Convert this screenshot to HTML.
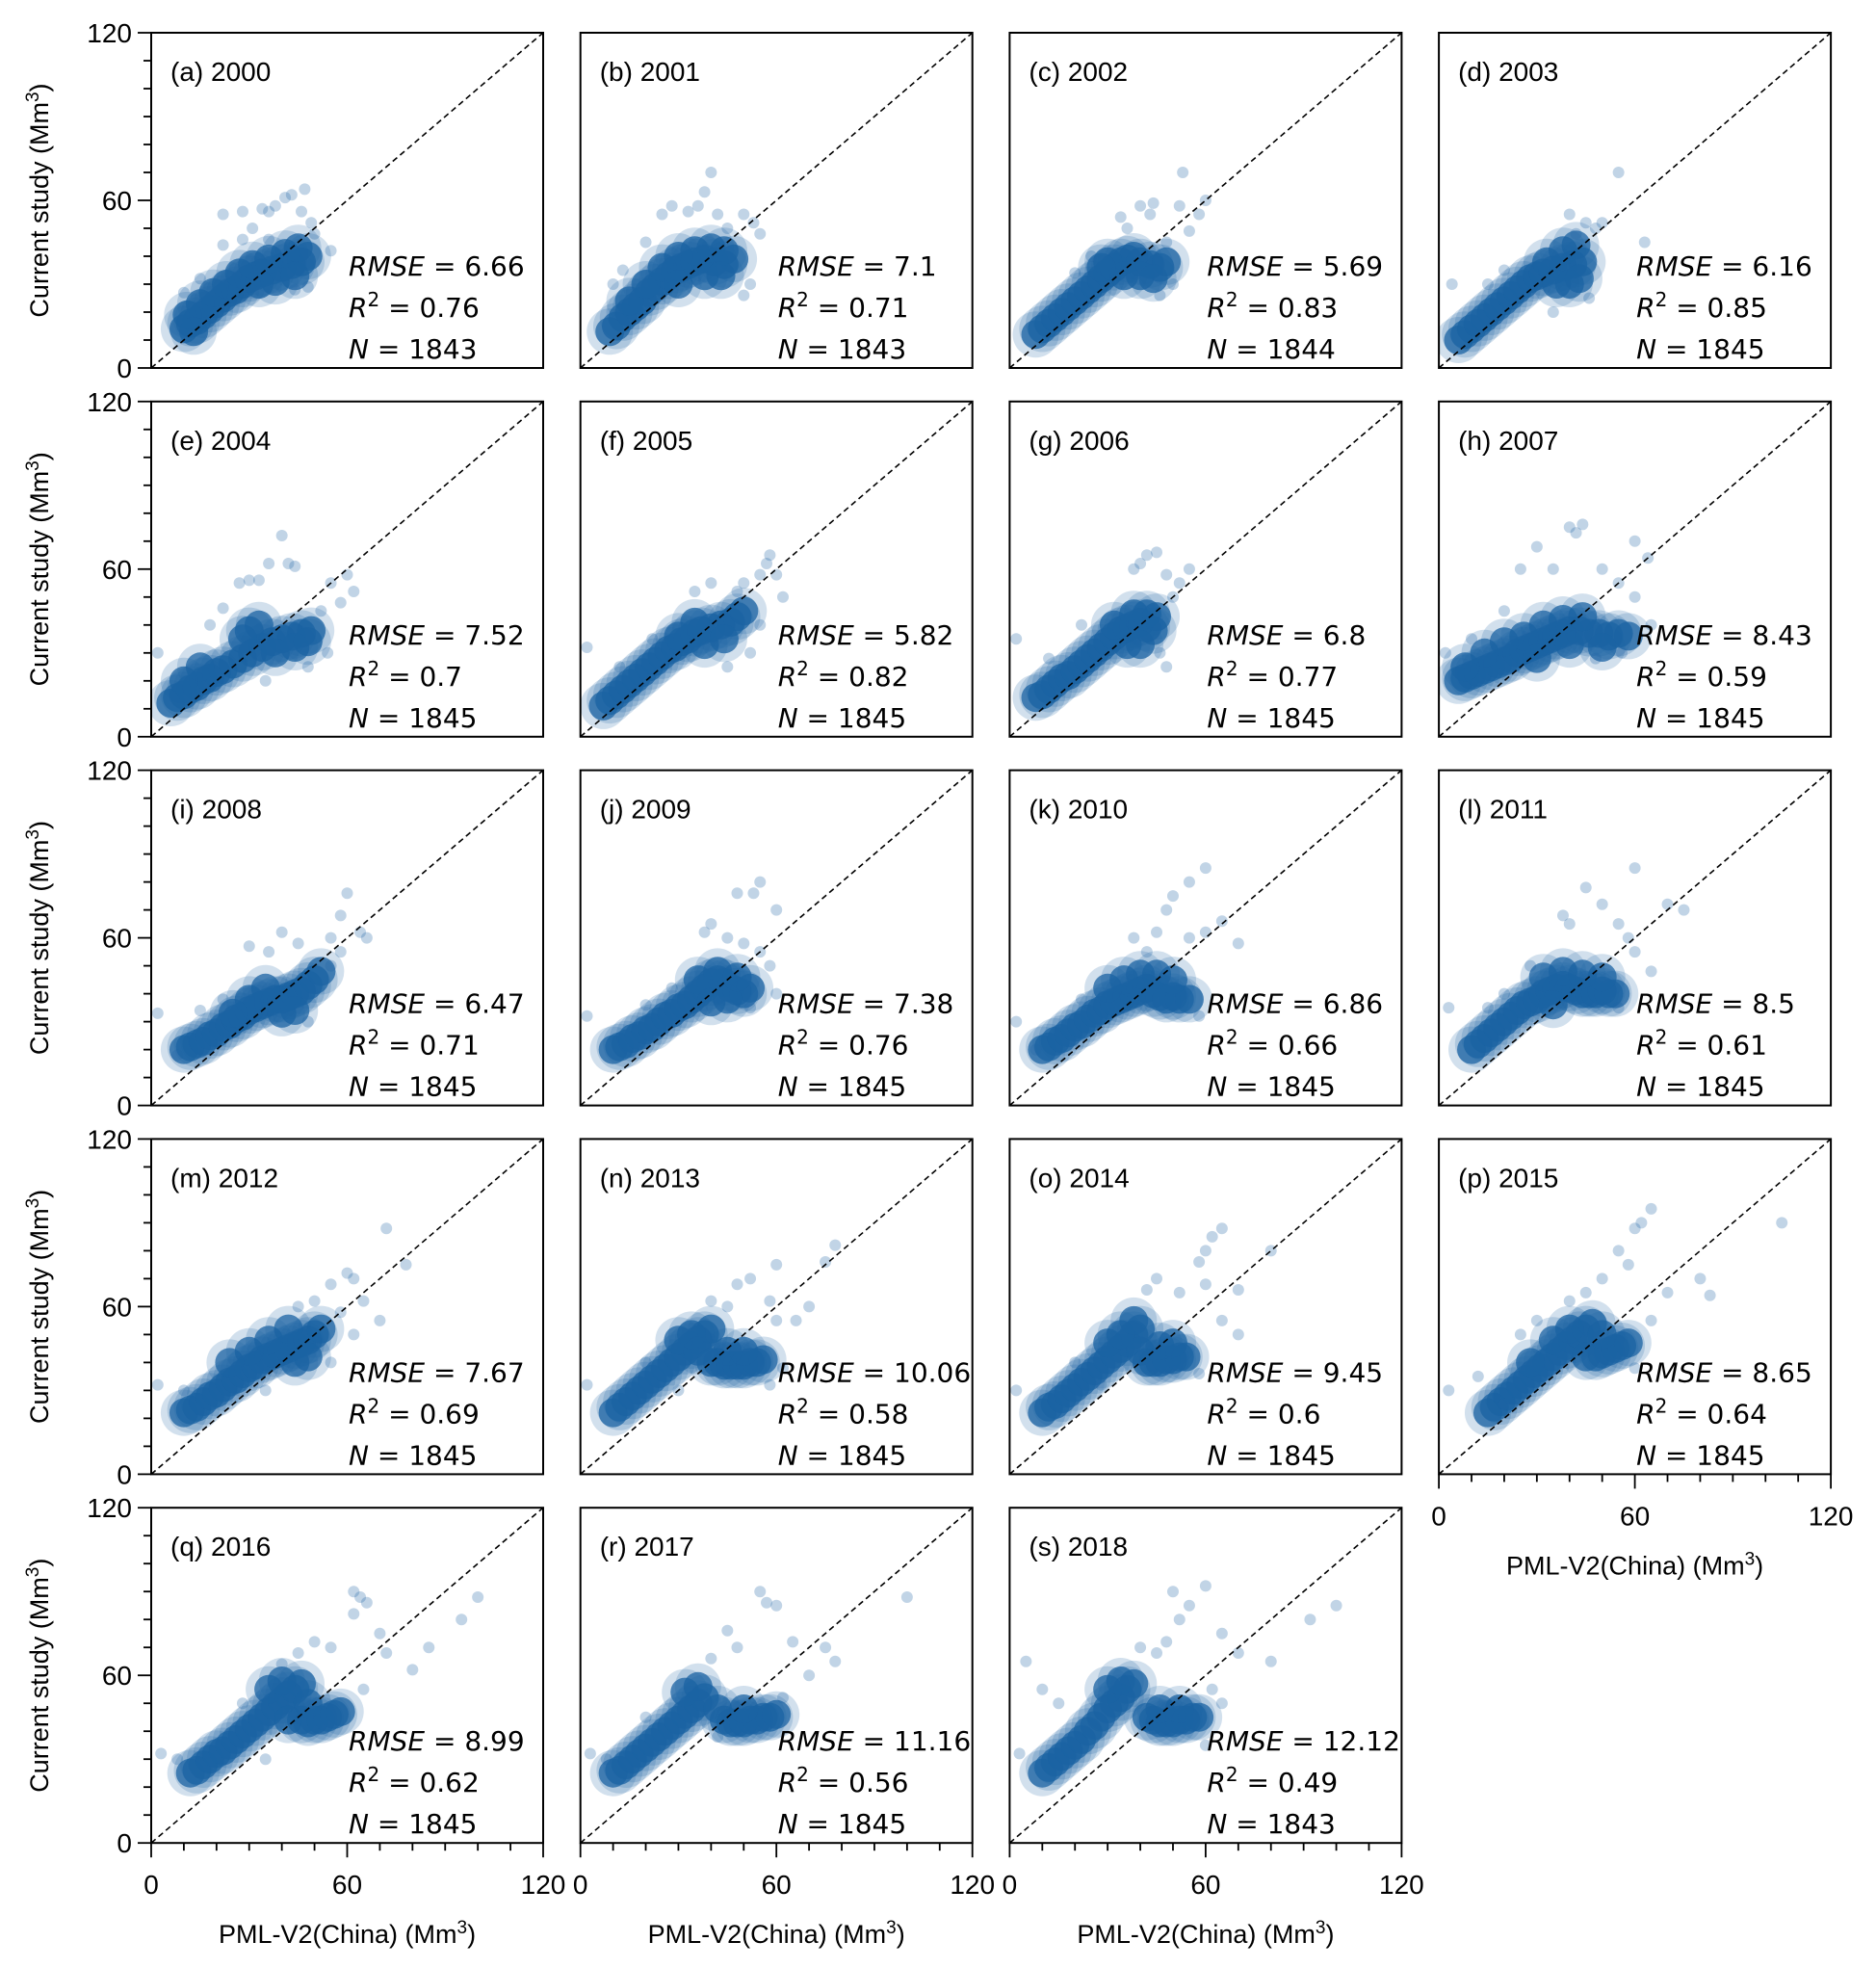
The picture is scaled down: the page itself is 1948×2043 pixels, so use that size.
<!DOCTYPE html>
<html><head><meta charset="utf-8"><style>
html,body{margin:0;padding:0;background:#fff;}
svg{display:block;}
text{font-family:"Liberation Sans",Arial,sans-serif;fill:#000;}
.st{font-family:"DejaVu Sans",sans-serif;}
</style></head><body>
<svg id="fig" width="1948" height="2043" viewBox="0 0 1948 2043" xmlns="http://www.w3.org/2000/svg"></svg>
<script>
const panelTitles=["(a) 2000","(b) 2001","(c) 2002","(d) 2003","(e) 2004","(f) 2005","(g) 2006","(h) 2007","(i) 2008","(j) 2009","(k) 2010","(l) 2011","(m) 2012","(n) 2013","(o) 2014","(p) 2015","(q) 2016","(r) 2017","(s) 2018"];
const rmseValues=["6.66","7.1","5.69","6.16","7.52","5.82","6.8","8.43","6.47","7.38","6.86","8.5","7.67","10.06","9.45","8.65","8.99","11.16","12.12"];
const r2Values=["0.76","0.71","0.83","0.85","0.7","0.82","0.77","0.59","0.71","0.76","0.66","0.61","0.69","0.58","0.6","0.64","0.62","0.56","0.49"];
const nValues=["1843","1843","1844","1845","1845","1845","1845","1845","1845","1845","1845","1845","1845","1845","1845","1845","1845","1845","1843"];
const axisTicks=[0,60,120];
const coreA=[[10,14],[12,16],[14,17],[16,19],[18,21],[20,23],[22,25],[24,27],[26,28],[28,30],[30,32],[32,33],[34,34],[37,35],[40,36],[43,37],[46,38],[48,40],[11,19],[15,23],[19,27],[23,30],[27,34],[31,37],[36,39],[41,41],[45,43],[38,31],[44,33],[33,30],[13,13]];
const outA=[[22,55],[28,56],[34,57],[36,56],[38,58],[41,61],[43,62],[47,64],[46,56],[49,52],[28,46],[22,44],[55,42],[48,29],[44,28],[15,32],[10,27],[50,48],[31,50],[36,46]];
const coreB=[[9,13],[11,15],[13,18],[15,20],[17,22],[19,24],[21,27],[23,29],[25,31],[27,33],[29,35],[31,36],[33,37],[35,38],[38,39],[41,38],[44,37],[47,39],[15,24],[20,30],[25,36],[30,40],[35,42],[40,43],[44,42],[38,33],[43,33],[30,30]];
const outB=[[40,70],[38,63],[36,58],[33,56],[28,58],[25,55],[50,55],[53,52],[55,48],[52,30],[50,26],[10,30],[13,35],[20,45],[45,50],[42,55]];
const coreC=[[8,12],[10,14],[12,16],[14,18],[16,20],[18,22],[20,24],[22,26],[24,28],[26,30],[28,32],[30,34],[32,36],[34,38],[36,39],[38,40],[40,38],[43,37],[46,36],[48,38],[35,33],[40,33],[44,32],[30,38],[28,36]];
const outC=[[53,70],[52,58],[40,58],[43,55],[44,59],[34,54],[36,50],[55,49],[58,55],[60,60],[50,30],[46,26],[20,34],[25,40],[48,45]];
const coreD=[[6,10],[8,12],[10,14],[12,16],[14,18],[16,20],[18,22],[20,24],[22,26],[24,28],[26,30],[28,32],[30,33],[32,34],[35,35],[38,36],[41,37],[44,38],[36,30],[40,30],[43,32],[33,38],[38,42],[42,44]];
const outD=[[55,70],[50,52],[48,50],[45,52],[40,55],[42,48],[63,45],[4,30],[15,30],[20,35],[35,20],[46,25]];
const coreE=[[6,12],[8,14],[10,15],[12,17],[14,18],[16,20],[18,21],[20,23],[22,24],[25,26],[28,28],[31,30],[34,32],[37,34],[40,35],[43,36],[46,37],[49,38],[30,38],[33,40],[28,35],[38,30],[44,32],[48,34],[10,20],[15,25]];
const outE=[[40,72],[44,61],[42,62],[36,62],[30,56],[27,55],[33,56],[60,58],[62,52],[58,48],[55,55],[52,45],[54,30],[2,30],[18,40],[22,46],[48,25],[35,20]];
const coreF=[[7,11],[9,13],[11,15],[13,17],[15,19],[17,21],[19,23],[21,25],[23,27],[25,29],[27,31],[29,32],[31,34],[33,35],[35,37],[37,38],[40,39],[43,40],[46,41],[48,43],[50,45],[38,33],[44,35],[30,36],[35,41]];
const outF=[[58,65],[57,62],[55,58],[50,55],[48,52],[40,55],[35,52],[60,58],[62,50],[2,32],[12,25],[45,25],[52,30],[22,35],[55,40]];
const coreG=[[8,14],[10,15],[12,17],[14,19],[16,21],[18,22],[20,24],[22,26],[24,28],[26,30],[28,32],[30,34],[32,36],[34,38],[36,39],[38,40],[40,41],[42,39],[44,38],[36,33],[40,33],[32,40],[38,44],[42,44],[45,43]];
const outG=[[42,65],[45,66],[40,62],[38,60],[48,58],[52,55],[55,60],[50,50],[2,35],[12,28],[22,40],[46,30],[48,25]];
const coreH=[[6,20],[8,21],[10,22],[12,23],[14,24],[16,25],[18,26],[20,27],[22,28],[24,30],[26,31],[28,32],[30,33],[32,34],[34,35],[36,36],[38,37],[40,38],[43,38],[46,37],[49,37],[52,36],[55,37],[58,36],[14,30],[20,34],[26,36],[32,40],[38,42],[44,43],[30,28],[40,33],[50,32],[8,25]];
const outH=[[40,75],[42,73],[44,76],[30,68],[35,60],[25,60],[50,60],[55,55],[60,70],[64,64],[60,50],[65,40],[2,30],[10,35],[20,45],[48,28],[56,30]];
const coreI=[[10,20],[12,21],[14,22],[16,23],[18,25],[20,26],[22,28],[24,29],[26,31],[28,32],[30,34],[32,35],[34,36],[36,37],[38,38],[40,38],[42,39],[44,40],[46,41],[48,43],[50,45],[40,33],[44,34],[30,38],[35,42],[25,33],[52,48]];
const outI=[[60,76],[58,68],[66,60],[64,62],[55,60],[45,58],[40,62],[30,57],[36,55],[2,33],[8,18],[15,34],[22,38],[48,30],[55,50],[58,55]];
const coreJ=[[10,20],[12,21],[14,22],[16,24],[18,25],[20,27],[22,28],[24,30],[26,32],[28,33],[30,35],[32,36],[34,38],[36,40],[38,42],[40,44],[42,45],[44,44],[46,42],[48,41],[50,40],[52,42],[40,37],[45,38],[36,45],[42,48],[48,46]];
const outJ=[[55,80],[53,76],[48,76],[60,70],[40,65],[38,62],[45,60],[50,58],[55,55],[58,50],[2,32],[20,36],[28,42],[60,40],[52,35]];
const coreK=[[10,20],[12,21],[14,23],[16,24],[18,26],[20,28],[22,29],[24,31],[26,33],[28,34],[30,36],[32,37],[34,38],[36,39],[38,40],[40,41],[42,42],[44,40],[46,39],[48,38],[50,39],[52,38],[55,38],[40,47],[45,47],[35,45],[30,42],[50,45]];
const outK=[[60,85],[55,80],[50,75],[48,70],[65,66],[60,62],[55,60],[45,62],[38,60],[42,55],[70,58],[2,30],[8,20],[22,38],[58,32]];
const coreL=[[10,20],[12,22],[14,24],[16,26],[18,28],[20,30],[22,32],[24,34],[26,36],[28,37],[30,38],[32,40],[34,41],[36,42],[38,43],[40,42],[42,41],[44,40],[46,40],[48,40],[50,41],[52,40],[54,40],[32,46],[38,48],[44,47],[50,46],[35,36]];
const outL=[[60,85],[75,70],[70,72],[45,78],[50,72],[40,65],[38,68],[55,65],[58,60],[60,55],[3,35],[15,35],[20,40],[55,35],[28,50],[65,48]];
const coreM=[[10,22],[12,23],[14,24],[16,26],[18,28],[20,29],[22,31],[24,33],[26,34],[28,36],[30,38],[32,39],[34,41],[36,42],[38,43],[40,44],[42,45],[44,46],[46,47],[48,48],[50,50],[30,44],[36,48],[42,52],[44,40],[48,42],[24,40],[52,52]];
const outM=[[72,88],[78,75],[60,72],[62,70],[55,68],[65,62],[50,62],[45,60],[58,58],[70,55],[2,32],[10,30],[35,30],[55,40],[62,50]];
const coreN=[[10,22],[12,24],[14,26],[16,28],[18,30],[20,32],[22,34],[24,36],[26,38],[28,40],[30,42],[32,44],[34,46],[36,48],[38,50],[40,52],[30,48],[34,50],[36,44],[40,40],[42,40],[44,39],[46,39],[48,39],[50,39],[52,40],[54,40],[56,41],[45,44],[50,44]];
const outN=[[78,82],[75,76],[60,75],[48,68],[52,70],[58,62],[60,55],[66,55],[70,60],[45,60],[40,62],[2,32],[20,40],[30,30],[62,38],[58,32]];
const coreO=[[10,22],[12,24],[14,25],[16,27],[18,29],[20,31],[22,33],[24,35],[26,37],[28,39],[30,41],[32,43],[34,45],[36,47],[38,50],[40,52],[30,47],[34,50],[38,55],[40,44],[42,40],[44,40],[46,40],[48,41],[50,41],[52,42],[54,42],[46,46],[50,47]];
const outO=[[65,88],[62,85],[60,80],[58,76],[80,80],[70,66],[60,68],[52,65],[45,70],[42,66],[65,55],[70,50],[2,30],[20,40],[28,32],[58,36]];
const coreP=[[15,22],[17,24],[19,26],[21,28],[23,30],[25,32],[27,34],[29,36],[31,38],[33,40],[35,42],[37,44],[39,46],[41,48],[43,50],[45,52],[47,54],[45,42],[48,42],[50,43],[52,44],[54,45],[56,46],[58,47],[35,48],[40,52],[50,50],[28,40]];
const outP=[[65,95],[62,90],[60,88],[55,80],[58,75],[80,70],[105,90],[83,64],[70,65],[50,70],[45,65],[40,62],[30,55],[25,50],[3,30],[12,35],[65,55],[60,38],[20,25]];
const coreQ=[[12,25],[14,26],[16,28],[18,30],[20,32],[22,33],[24,35],[26,37],[28,39],[30,41],[32,43],[34,45],[36,47],[38,49],[40,51],[42,53],[44,55],[46,57],[42,44],[46,44],[48,43],[50,44],[52,44],[54,45],[56,46],[58,47],[36,55],[40,58],[48,50]];
const outQ=[[62,90],[64,88],[62,82],[66,86],[70,75],[100,88],[95,80],[85,70],[80,62],[72,68],[55,70],[50,72],[45,68],[40,64],[3,32],[8,30],[28,50],[35,30],[65,55]];
const coreR=[[10,25],[12,26],[14,28],[16,30],[18,32],[20,34],[22,36],[24,38],[26,40],[28,42],[30,44],[32,46],[34,48],[36,50],[38,52],[32,54],[36,56],[44,44],[46,43],[48,43],[50,43],[52,44],[54,44],[56,45],[58,45],[60,46],[42,48],[50,48]];
const outR=[[55,90],[57,86],[60,85],[100,88],[75,70],[78,65],[70,60],[65,72],[48,70],[45,76],[40,66],[3,32],[8,30],[20,45],[62,52],[42,38]];
const coreS=[[10,25],[12,27],[14,29],[16,31],[18,33],[20,35],[22,37],[24,40],[26,42],[28,45],[30,48],[32,50],[34,52],[36,55],[38,57],[30,55],[34,58],[42,45],[44,44],[46,43],[48,43],[50,43],[52,44],[54,44],[56,45],[58,45],[46,48],[52,48]];
const outS=[[50,90],[60,92],[55,85],[52,80],[100,85],[92,80],[80,65],[70,68],[65,75],[48,72],[45,68],[40,70],[5,65],[3,32],[10,55],[15,50],[62,55],[65,50],[60,35]];
const coreSets=[coreA,coreB,coreC,coreD,coreE,coreF,coreG,coreH,coreI,coreJ,coreK,coreL,coreM,coreN,coreO,coreP,coreQ,coreR,coreS];
const outSets=[outA,outB,outC,outD,outE,outF,outG,outH,outI,outJ,outK,outL,outM,outN,outO,outP,outQ,outR,outS];

const NS="http://www.w3.org/2000/svg";
const svg=document.getElementById('fig');
const L0=157,T0=34,PX=445.7,PY=382.8,W=407,H=348,VMAX=120;
function mk(tag,attrs,parent){const e=document.createElementNS(NS,tag);for(const k in attrs)e.setAttribute(k,attrs[k]);(parent||svg).appendChild(e);return e;}
for(let i=0;i<panelTitles.length;i++){
  const col=i%4,row=Math.floor(i/4);
  const left=L0+col*PX,top=T0+row*PY,bottom=top+H;
  const sx=v=>left+v/VMAX*W, sy=v=>bottom-v/VMAX*H;
  const g=mk('g',{});
  
  
  const clip=mk('clipPath',{id:'c'+i},g);
  mk('rect',{x:left,y:top,width:W,height:H},clip);
  const pts=mk('g',{'clip-path':'url(#c'+i+')'},g);
  
  
  for(const p of coreSets[i]){
    const h=mk('circle',{cx:sx(p[0]),cy:sy(p[1]),r:24,fill:'rgba(31,100,165,0.2)'},pts);
    
    
  }
  for(const p of coreSets[i]){
    const c=mk('circle',{cx:sx(p[0]),cy:sy(p[1]),r:15,fill:'rgba(27,99,163,0.75)'},pts);
    
    
  }
  for(const p of outSets[i]){
    const c=mk('circle',{cx:sx(p[0]),cy:sy(p[1]),r:6,fill:'rgba(31,100,165,0.28)'},pts);
    
    
  }
  const d=mk('line',{x1:sx(0),y1:sy(0),x2:sx(VMAX),y2:sy(VMAX),stroke:'#000','stroke-width':1.6,'stroke-dasharray':'6,4'},g);
  
  
  const fr=mk('rect',{x:left,y:top,width:W,height:H,fill:'none',stroke:'#000','stroke-width':2},g);
  
  
  const t=mk('text',{x:left+20,y:top+50,'font-size':28},g);t.textContent=panelTitles[i];
  
  
  const st=mk('text',{class:'st',x:left+205,y:bottom-96,'font-size':28},g);
  st.innerHTML='<tspan font-style="italic">RMSE</tspan> = '+rmseValues[i];
  
  
  const r2=mk('text',{class:'st',x:left+205,y:bottom-53,'font-size':28},g);
  r2.innerHTML='<tspan font-style="italic">R</tspan><tspan dy="-11" font-size="20">2</tspan><tspan dy="11"> = '+r2Values[i]+'</tspan>';
  
  
  const nn=mk('text',{class:'st',x:left+205,y:bottom-10,'font-size':28},g);
  nn.innerHTML='<tspan font-style="italic">N</tspan> = '+nValues[i];
  
  
  if(col===0){
    for(let v=0;v<=VMAX;v+=10){
      const major=axisTicks.includes(v);
      mk('line',{x1:left,x2:left-(major?14:8),y1:sy(v),y2:sy(v),stroke:'#000','stroke-width':1.8},g);
    }
    for(const v of axisTicks){
      const tl=mk('text',{x:left-20,y:sy(v)+10,'font-size':28,'text-anchor':'end'},g);tl.textContent=v;
      
      
    }
    const yl=mk('text',{x:0,y:0,'font-size':27,'text-anchor':'middle',transform:'translate(50,'+(top+H/2)+') rotate(-90)'},g);
    yl.innerHTML='Current study (Mm<tspan dy="-10" font-size="19">3</tspan><tspan dy="10">)</tspan>';
    
    
  }
  if(row===4||i===15){
    for(let v=0;v<=VMAX;v+=10){
      const major=axisTicks.includes(v);
      mk('line',{x1:sx(v),x2:sx(v),y1:bottom,y2:bottom+(major?15:8),stroke:'#000','stroke-width':1.8},g);
    }
    for(const v of axisTicks){
      const tl=mk('text',{x:sx(v),y:bottom+53,'font-size':28,'text-anchor':'middle'},g);tl.textContent=v;
      
      
    }
    const xl=mk('text',{x:left+W/2,y:bottom+104,'font-size':27,'text-anchor':'middle'},g);
    xl.innerHTML='PML-V2(China) (Mm<tspan dy="-10" font-size="19">3</tspan><tspan dy="10">)</tspan>';
    
    
  }
}
</script>
</body></html>
